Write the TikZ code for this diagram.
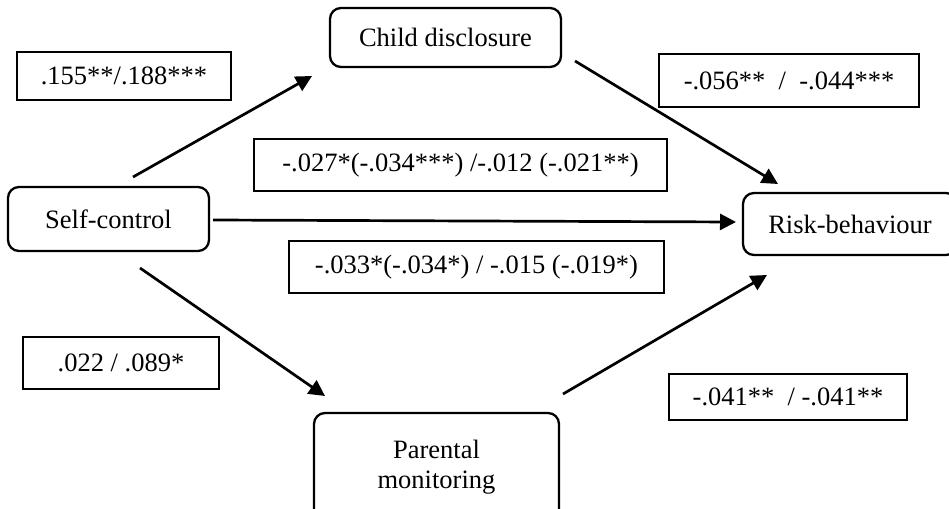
\documentclass[tikz,border=0pt]{standalone}
\usepackage{fontspec}
\setmainfont{Liberation Serif}
\usetikzlibrary{arrows.meta}
\begin{document}
\begin{tikzpicture}[x=1pt,y=-1pt,
  varbox/.style={draw, rounded corners=11pt, line width=2.3pt, inner sep=0pt, align=center, font=\fontsize{26.5}{30}\selectfont},
  coefbox/.style={draw, line width=2.3pt, inner sep=0pt, font=\fontsize{26.5}{30}\selectfont},
  conn/.style={line width=2.7pt, -{Triangle[length=16pt,width=16pt]}}
]
\useasboundingbox (0,0) rectangle (949,508);
\clip (0,0) rectangle (949,508);
% variable nodes
\node[varbox, minimum width=231pt, minimum height=59pt] (cd) at (445.5,37.5) {Child disclosure};
\node[varbox, minimum width=201pt, minimum height=64pt] (sc) at (108.5,219) {Self-control};
\node[varbox, minimum width=214pt, minimum height=62pt] (rb) at (850,224) {Risk-behaviour};
\node[varbox, minimum width=245pt, minimum height=108pt] (pm) at (436.5,467) {Parental\\monitoring};
% coefficient boxes
\node[coefbox, minimum width=214pt, minimum height=48pt] (l1) at (124,76) {.155**/.188***};
\node[coefbox, minimum width=260pt, minimum height=53pt] (l2) at (789,80.5) {-.056**\ \ /\ \ -.044***};
\node[coefbox, minimum width=413pt, minimum height=52pt] (l3) at (460.5,165) {-.027*(-.034***) /-.012 (-.021**)};
\node[coefbox, minimum width=375pt, minimum height=52pt] (l4) at (476.5,267) {-.033*(-.034*) / -.015 (-.019*)};
\node[coefbox, minimum width=196pt, minimum height=52pt] (l5) at (121,363) {.022 / .089*};
\node[coefbox, minimum width=238pt, minimum height=46pt] (l6) at (788,397) {-.041**\ \ / -.041**};
% connector ends
\coordinate (a1s) at (133,177); \coordinate (a1e) at (312,76);
\coordinate (a2s) at (575,61);  \coordinate (a2e) at (778,184);
\coordinate (a3s) at (213,220); \coordinate (a3e) at (736,222);
\coordinate (a4s) at (140,268); \coordinate (a4e) at (325,396);
\coordinate (a5s) at (563,394); \coordinate (a5e) at (767,275);
\draw[conn] (a1s) -- (a1e);
\draw[conn] (a2s) -- (a2e);
\draw[conn] (a3s) -- (a3e);
\draw[conn] (a4s) -- (a4e);
\draw[conn] (a5s) -- (a5e);
\end{tikzpicture}
\end{document}
